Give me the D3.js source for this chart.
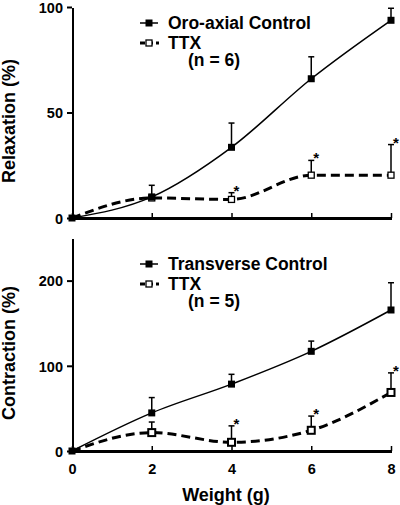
<!DOCTYPE html>
<html><head><meta charset="utf-8">
<script src="https://cdn.jsdelivr.net/npm/d3@7"></script>
<style>
body{margin:0;background:#fff;}
text{font-family:"Liberation Sans",Arial,sans-serif;font-weight:bold;fill:#000;}
</style></head><body>
<script>
// Data
const weights = [0, 2, 4, 6, 8];
const topControl = [0, 10, 33.5, 66, 93.7];
const topControlErr = [0, 5.5, 11.5, 10.4, 5.7];
const topTTX = [0, 9.5, 8.8, 20.3, 20.3];
const topTTXErr = [0, 0, 3.2, 7, 14.5];
const topStars = [false, false, true, true, true];
const botControl = [0, 44.7, 78.5, 117, 165.5];
const botControlErr = [0, 18, 11.5, 12, 32];
const botTTX = [0, 21.6, 10.2, 24.3, 68.7];
const botTTXErr = [0, 12.4, 19.3, 16.7, 23];
const botStars = [false, false, true, true, true];
const xTicks = [0, 2, 4, 6, 8];
const topYTicks = [0, 50, 100];
const botYTicks = [0, 100, 200];

const W = 400, H = 505;
const svg = d3.select("body").append("svg").attr("width", W).attr("height", H);

const x = d3.scaleLinear().domain([0, 8]).range([72, 391]);

function panel(cfg) {
  const y = d3.scaleLinear().domain(cfg.domain).range([cfg.y0, cfg.y1]);
  const g = svg.append("g");
  // axes
  const yAx = g.append("g").attr("transform", "translate(72,0)")
    .call(d3.axisLeft(y).tickValues(cfg.yTicks).tickSize(5).tickPadding(4).tickSizeOuter(0));
  yAx.select(".domain").attr("stroke-width", 2);
  yAx.selectAll(".tick line").attr("stroke-width", 2);
  yAx.selectAll(".tick text").style("font-size", "14.5px").attr("font-family", null).attr("dy", "0.36em");
  const xAx = g.append("g").attr("transform", `translate(0,${cfg.y0})`)
    .call(d3.axisBottom(x).tickValues(xTicks).tickSize(-5).tickSizeOuter(0).tickFormat(cfg.showX ? d3.format("d") : ""));
  xAx.select(".domain").attr("stroke-width", 2.2);
  xAx.selectAll(".tick line").attr("stroke-width", 1.5);
  xAx.selectAll(".tick text").style("font-size", "14.5px").attr("font-family", null).attr("y", 13);
  svg.selectAll(".domain").attr("shape-rendering", "crispEdges");

  // axis title
  g.append("text").attr("transform", `translate(15,${cfg.titleY}) rotate(-90)`)
    .attr("text-anchor", "middle").style("font-size", "18px").text(cfg.title);

  const line = d3.line().x((d, i) => x(weights[i])).y(d => y(d)).curve(d3.curveMonotoneX);

  // error bars
  function errBars(vals, errs) {
    vals.forEach((v, i) => {
      if (!errs[i]) return;
      const xx = x(weights[i]);
      g.append("line").attr("x1", xx).attr("x2", xx).attr("y1", y(v)).attr("y2", y(v + errs[i]))
        .attr("stroke", "#000").attr("stroke-width", 1.5);
      g.append("line").attr("x1", xx - 3).attr("x2", xx + 3).attr("y1", y(v + errs[i])).attr("y2", y(v + errs[i]))
        .attr("stroke", "#000").attr("stroke-width", 1.5);
    });
  }
  errBars(cfg.control, cfg.controlErr);
  errBars(cfg.ttx, cfg.ttxErr);

  g.append("path").datum(cfg.control).attr("d", line).attr("fill", "none")
    .attr("stroke", "#000").attr("stroke-width", 1.5);
  g.append("path").datum(cfg.ttx).attr("d", line).attr("fill", "none")
    .attr("stroke", "#000").attr("stroke-width", 3).attr("stroke-dasharray", "9,5");

  // markers
  cfg.ttx.forEach((v, i) => {
    const s = cfg.openSize;
    if (i === 0) return;
    g.append("rect").attr("x", x(weights[i]) - s / 2).attr("y", y(v) - s / 2).attr("width", s).attr("height", s)
      .attr("fill", "#fff").attr("stroke", "#000").attr("stroke-width", cfg.openStroke);
  });
  cfg.control.forEach((v, i) => {
    const s = 7;
    g.append("rect").attr("x", x(weights[i]) - s / 2).attr("y", y(v) - s / 2).attr("width", s).attr("height", s)
      .attr("fill", "#000");
  });
  // stars
  cfg.stars.forEach((st, i) => {
    if (!st) return;
    g.append("text").attr("x", x(weights[i]) + 5).attr("y", y(cfg.ttx[i] + cfg.ttxErr[i]) + 3)
      .attr("text-anchor", "middle").style("font-size", "15px").text("*");
  });

  // legend
  const lg = g.append("g");
  lg.append("line").attr("x1", 140).attr("x2", 158).attr("y1", cfg.legY).attr("y2", cfg.legY)
    .attr("stroke", "#000").attr("stroke-width", 1.5);
  lg.append("rect").attr("x", 145.5).attr("y", cfg.legY - 3.5).attr("width", 7).attr("height", 7).attr("fill", "#000");
  lg.append("text").attr("x", 168).attr("y", cfg.legY + 6).style("font-size", "17.5px").text(cfg.legLabel);
  const ly2 = cfg.legY + 20;
  lg.append("line").attr("x1", 140).attr("x2", 159).attr("y1", ly2).attr("y2", ly2)
    .attr("stroke", "#000").attr("stroke-width", 3).attr("stroke-dasharray", "5,3");
  lg.append("rect").attr("x", 146).attr("y", ly2 - 3).attr("width", 6).attr("height", 6)
    .attr("fill", "#fff").attr("stroke", "#000").attr("stroke-width", 1.3);
  lg.append("text").attr("x", 168).attr("y", ly2 + 6).style("font-size", "17.5px").text("TTX");
  lg.append("text").attr("x", 188).attr("y", cfg.legY + 43).style("font-size", "17.5px").text(cfg.nLabel);
}

panel({domain: [0, 100], y0: 218, y1: 7, yTicks: topYTicks, showX: false,
  title: "Relaxation (%)", titleY: 121, control: topControl, controlErr: topControlErr,
  ttx: topTTX, ttxErr: topTTXErr, stars: topStars, openSize: 6, openStroke: 1.3,
  legY: 23, legLabel: "Oro-axial Control", nLabel: "(n = 6)"});
panel({domain: [0, 250], y0: 451, y1: 238, yTicks: botYTicks, showX: true,
  title: "Contraction (%)", titleY: 353, control: botControl, controlErr: botControlErr,
  ttx: botTTX, ttxErr: botTTXErr, stars: botStars, openSize: 7, openStroke: 2,
  legY: 264, legLabel: "Transverse Control", nLabel: "(n = 5)"});

svg.append("text").attr("x", 226).attr("y", 501).attr("text-anchor", "middle")
  .style("font-size", "18px").text("Weight (g)");
</script>
</body></html>
